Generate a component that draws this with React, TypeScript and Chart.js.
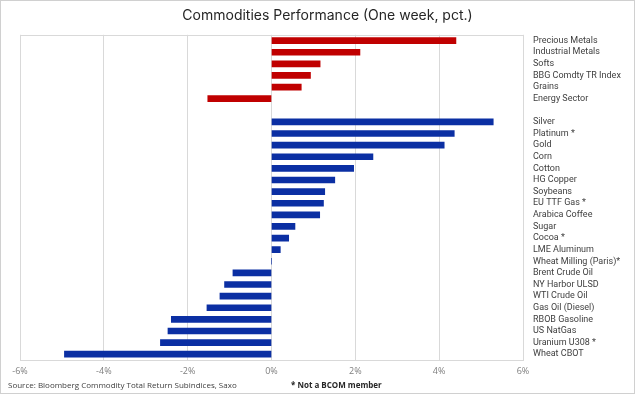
import React, { useEffect, useRef } from 'react';
import { Chart, registerables } from 'chart.js';
Chart.register(...registerables);

const sectorLabels = ['Precious Metals', 'Industrial Metals', 'Softs', 'BBG Comdty TR Index', 'Grains', 'Energy Sector'];
const sectorValues = [4.40, 2.11, 1.16, 0.93, 0.71, -1.52];
const commodityLabels = ['Silver', 'Platinum *', 'Gold', 'Corn', 'Cotton', 'HG Copper', 'Soybeans', 'EU TTF Gas *', 'Arabica Coffee', 'Sugar', 'Cocoa *', 'LME Aluminum', 'Wheat Milling (Paris)*', 'Brent Crude Oil', 'NY Harbor ULSD', 'WTI Crude Oil', 'Gas Oil (Diesel)', 'RBOB Gasoline', 'US NatGas', 'Uranium U308 *', 'Wheat CBOT'];
const commodityValues = [5.29, 4.36, 4.12, 2.42, 1.96, 1.51, 1.27, 1.24, 1.15, 0.56, 0.41, 0.21, 0.0, -0.92, -1.12, -1.23, -1.54, -2.39, -2.47, -2.65, -4.94];
const xMin = -6;
const xMax = 6;
const xStep = 2;

const RED = '#C00000';
const BLUE = '#0B2FA3';

const boxPlugin = {
  id: 'plotBox',
  beforeDatasetsDraw(chart: any) {
    const { ctx, chartArea } = chart;
    ctx.save();
    ctx.strokeStyle = '#d9d9d9';
    ctx.lineWidth = 1;
    ctx.strokeRect(Math.round(chartArea.left) + 0.5, Math.round(chartArea.top) + 0.5, Math.round(chartArea.width), Math.round(chartArea.height));
    ctx.restore();
  },
};

export default function App() {
  const ref = useRef<HTMLCanvasElement | null>(null);
  useEffect(() => {
    const labels = [...sectorLabels, '', ...commodityLabels];
    const values = [...sectorValues, null, ...commodityValues];
    const colors = [...sectorValues.map(() => RED), RED, ...commodityValues.map(() => BLUE)];
    const chart = new Chart(ref.current as HTMLCanvasElement, {
      type: 'bar',
      data: {
        labels,
        datasets: [{ data: values as any, backgroundColor: colors, borderWidth: 0, barThickness: 6 }],
      },
      options: {
        indexAxis: 'y',
        responsive: false,
        animation: false,
        layout: { padding: { left: 20, right: 0, top: 0, bottom: 14 } },
        plugins: {
          legend: { display: false },
          tooltip: { enabled: false },
          title: {
            display: true,
            text: 'Commodities Performance (One week, pct.)',
            color: '#262626',
            font: { family: 'Inter', size: 14, weight: 'normal' },
            padding: { top: 7, bottom: 11 },
          },
        },
        scales: {
          x: {
            min: xMin,
            max: xMax,
            ticks: {
              stepSize: xStep,
              callback: (v: any) => v + '%',
              color: '#7f7f7f',
              font: { family: 'Open Sans', size: 9 },
              padding: 6,
            },
            grid: { color: '#d9d9d9', drawTicks: false },
            border: { display: false },
            afterFit: (s: any) => { s.height = 20; },
          },
          y: {
            position: 'right',
            grid: { display: false, drawTicks: false },
            border: { display: false },
            ticks: {
              autoSkip: false,
              color: '#404040',
              font: { family: 'Roboto', size: 9 },
              padding: 10,
            },
            afterFit: (s: any) => { s.width = 112; },
          },
        },
      },
      plugins: [boxPlugin],
    });
    return () => chart.destroy();
  }, []);

  return (
    <div style={{ position: 'absolute', left: 0, top: 0, width: 635, height: 394, background: '#fff', overflow: 'hidden' }}>
      <canvas ref={ref} width={635} height={394} style={{ position: 'absolute', left: 0, top: 0 }} />
      <div style={{ position: 'absolute', left: 8, top: 379, fontFamily: 'Open Sans', fontSize: 8, color: '#404040', whiteSpace: 'nowrap', lineHeight: '12px' }}>
        Source: Bloomberg Commodity Total Return Subindices, Saxo
      </div>
      <div style={{ position: 'absolute', left: 291, top: 379, fontFamily: 'Open Sans', fontSize: 8, fontWeight: 'bold', color: '#262626', whiteSpace: 'nowrap', lineHeight: '12px' }}>
        * Not a BCOM member
      </div>
      <div style={{ position: 'absolute', left: 0, top: 0, width: 635, height: 394, boxSizing: 'border-box', border: '1px solid #d0d0d0', pointerEvents: 'none' }} />
    </div>
  );
}
